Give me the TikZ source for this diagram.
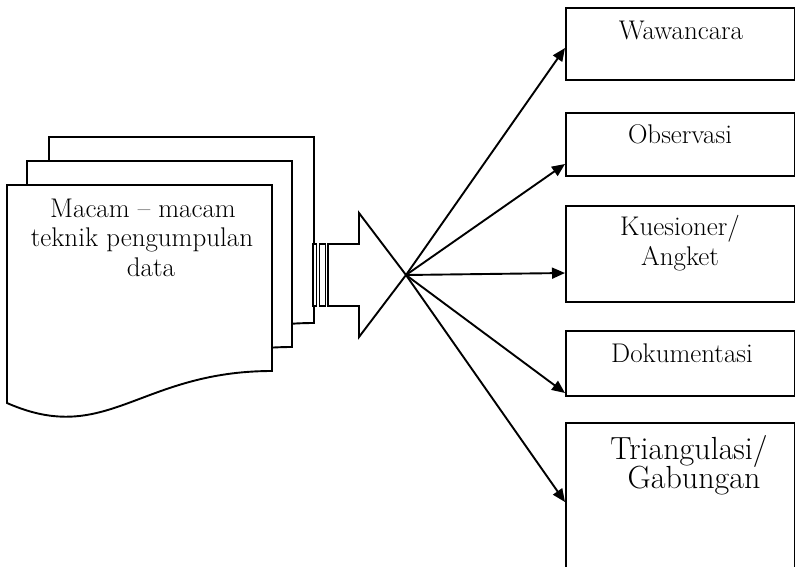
\documentclass[tikz,border=0pt]{standalone}
\usetikzlibrary{arrows.meta}
\begin{document}
\begin{tikzpicture}[x=1pt,y=-1pt,
  ln/.style={line width=1.9pt, line join=miter},
  outbox/.style={draw, ln, rectangle, minimum width=228.5pt, inner sep=0pt, anchor=north west},
  lbl/.style={anchor=base, inner sep=0pt, font=\fontsize{27}{32}\selectfont},
  biglbl/.style={anchor=base, inner sep=0pt, font=\fontsize{32}{37}\selectfont},
  doclbl/.style={anchor=base, inner sep=0pt, font=\fontsize{27}{32}\selectfont},
  fan/.style={ln, -{Triangle[length=13pt,width=11pt]}},
  docpage/.pic={\draw[ln, fill=white] (0,0) -- (265,0) -- (265,186) .. controls (132,186) and (100,262) .. (0,218) -- cycle;}
]
\useasboundingbox (0,0) rectangle (795,566);
\clip (0,0) rectangle (795,566);

% multi-document
\pic at (49,137) {docpage};
\pic at (27,161) {docpage};
\pic at (7,185) {docpage};
\node[doclbl] (d1) at (143,217) {Macam -- macam};
\node[doclbl] (d2) at (142,246) {teknik pengumpulan};
\node[doclbl] (d3) at (151,276) {data};

% striped block arrow
\draw[ln, fill=white] (313,244) rectangle (316.5,306);
\draw[ln, fill=white] (319.5,244) rectangle (325.5,306);
\draw[ln, fill=white] (328,244) -- (359,244) -- (359,213) -- (406,275) -- (359,337) -- (359,306) -- (328,306) -- cycle;
\coordinate (tip) at (406,275);

% boxes
\node[outbox, minimum height=72pt] (b1) at (565,7) {};
\node[outbox, minimum height=63pt] (b2) at (565,112) {};
\node[outbox, minimum height=96pt] (b3) at (565,205) {};
\node[outbox, minimum height=65pt] (b4) at (565,330) {};
\node[outbox, minimum height=190pt] (b5) at (565,422) {};

\node[lbl] (t1) at (681,39) {Wawancara};
\node[lbl] (t2) at (680,143) {Observasi};
\node[lbl] (t3a) at (680,235) {Kuesioner/};
\node[lbl] (t3b) at (680,265) {Angket};
\node[lbl] (t4) at (682,362) {Dokumentasi};
\node[biglbl] (t5a) at (689,459) {Triangulasi/};
\node[biglbl] (t5b) at (694,488) {Gabungan};

% fan arrows
\draw[fan] (tip) -- ([yshift=-41pt]b1.north west);
\draw[fan] (tip) -- ([yshift=-52pt]b2.north west);
\draw[fan] (tip) -- ([yshift=-68pt]b3.north west);
\draw[fan] (tip) -- ([yshift=-63pt]b4.north west);
\draw[fan] (tip) -- ([yshift=-80pt]b5.north west);
\end{tikzpicture}
\end{document}
